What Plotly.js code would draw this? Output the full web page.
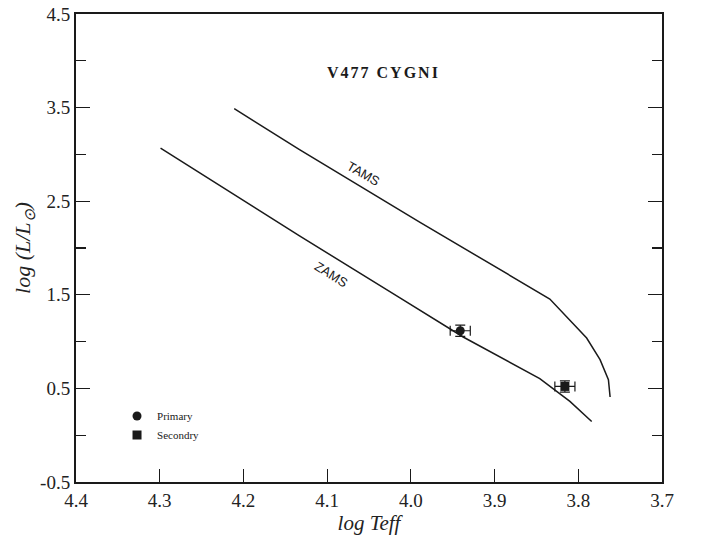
<!DOCTYPE html>
<html>
<head>
<meta charset="utf-8">
<script src="https://cdn.plot.ly/plotly-3.0.1.min.js"></script>
<style>html,body{margin:0;padding:0;background:#fff;}#chart{width:702px;height:541px;}</style>
</head>
<body>
<div id="chart"></div>
<script>
// Evolutionary tracks (log Teff, log L/Lsun)
const tamsTeff = [4.211, 4.133, 3.989, 3.834, 3.790, 3.774, 3.764, 3.762];
const tamsLum  = [3.488, 3.050, 2.274, 1.455, 1.038, 0.807, 0.593, 0.408];
const zamsTeff = [4.299, 4.133, 4.013, 3.9375, 3.846, 3.810, 3.784];
const zamsLum  = [3.068, 2.130, 1.466, 1.049, 0.604, 0.361, 0.147];
// Components
const primaryTeff = [3.941], primaryLum = [1.116], primaryTeffErr = [0.012], primaryLumErr = [0.06];
const secondTeff  = [3.816], secondLum  = [0.521], secondTeffErr  = [0.012], secondLumErr  = [0.06];
// Ticks
const xTickVals = [4.4, 4.3, 4.2, 4.1, 4.0, 3.9, 3.8, 3.7];
const xTickText = ['4.4', '4.3', '4.2', '4.1', '4.0', '3.9', '3.8', '3.7'];
const yTickVals = [-0.5, 0.5, 1.5, 2.5, 3.5, 4.5];
const yTickText = ['-0.5', '0.5', '1.5', '2.5', '3.5', '4.5'];

const serif = 'Liberation Serif, Times New Roman, serif';
const sans = 'Liberation Sans, Arial, sans-serif';

const traces = [
  {x: tamsTeff, y: tamsLum, mode: 'lines', line: {color: '#1a1a1a', width: 1.5}, showlegend: false, hoverinfo: 'skip'},
  {x: zamsTeff, y: zamsLum, mode: 'lines', line: {color: '#1a1a1a', width: 1.5}, showlegend: false, hoverinfo: 'skip'},
  {x: primaryTeff, y: primaryLum, mode: 'markers', name: 'Primary',
   marker: {symbol: 'circle', size: 9, color: '#1a1a1a'},
   error_x: {type: 'data', array: primaryTeffErr, color: '#1a1a1a', thickness: 1.2, width: 5},
   error_y: {type: 'data', array: primaryLumErr, color: '#1a1a1a', thickness: 1.2, width: 5}},
  {x: secondTeff, y: secondLum, mode: 'markers', name: 'Secondry',
   marker: {symbol: 'square', size: 9, color: '#1a1a1a'},
   error_x: {type: 'data', array: secondTeffErr, color: '#1a1a1a', thickness: 1.2, width: 5},
   error_y: {type: 'data', array: secondLumErr, color: '#1a1a1a', thickness: 1.2, width: 5}}
];

const layout = {
  width: 702, height: 541,
  margin: {l: 76, r: 40, t: 14, b: 59},
  paper_bgcolor: '#fff', plot_bgcolor: '#fff',
  showlegend: true,
  legend: {x: 0.07, y: 0.172, xanchor: 'left', yanchor: 'top', bgcolor: 'rgba(0,0,0,0)',
           font: {family: serif, size: 11, color: '#1a1a1a'}, tracegroupgap: 0},
  xaxis: {
    range: [4.4, 3.7], tickmode: 'array', tickvals: xTickVals, ticktext: xTickText,
    ticks: 'inside', ticklen: 13, tickwidth: 1.2, tickcolor: '#1a1a1a',
    showline: true, linecolor: '#1a1a1a', linewidth: 2, mirror: true,
    showgrid: false, zeroline: false, automargin: 'bottom',
    tickfont: {family: serif, size: 19, color: '#222'},
    title: {text: '<i>log Teff</i>', font: {family: serif, size: 21, color: '#222'}, standoff: 0}
  },
  yaxis: {
    range: [-0.5, 4.5], tickmode: 'array', tickvals: yTickVals, ticktext: yTickText,
    ticks: 'inside', ticklen: 14, tickwidth: 1.2, tickcolor: '#1a1a1a',
    minor: {dtick: 0.5, tick0: 0, ticks: 'inside', ticklen: 10, tickwidth: 1.2, tickcolor: '#1a1a1a', showgrid: false},
    showline: true, linecolor: '#1a1a1a', linewidth: 2, mirror: 'ticks',
    showgrid: false, zeroline: false, automargin: 'left',
    tickfont: {family: serif, size: 19, color: '#222'},
    title: {text: '<i>log (L/L<sub>⊙</sub>)</i>', font: {family: serif, size: 22, color: '#222'}, standoff: 3}
  },
  annotations: [
    {xref: 'paper', yref: 'paper', x: 0.525, y: 0.875, yanchor: 'middle', showarrow: false,
     text: '<b><span style="letter-spacing:2px">V477 CYGNI</span></b>',
     font: {family: serif, size: 16, color: '#1a1a1a'}},
    {x: 4.057, y: 2.80, showarrow: false, text: 'TAMS', textangle: 30,
     font: {family: sans, size: 13, color: '#1a1a1a'}},
    {x: 4.095, y: 1.715, showarrow: false, text: 'ZAMS', textangle: 32,
     font: {family: sans, size: 13, color: '#1a1a1a'}}
  ]
};

Plotly.newPlot('chart', traces, layout, {staticPlot: true, displayModeBar: false});
</script>
</body>
</html>
